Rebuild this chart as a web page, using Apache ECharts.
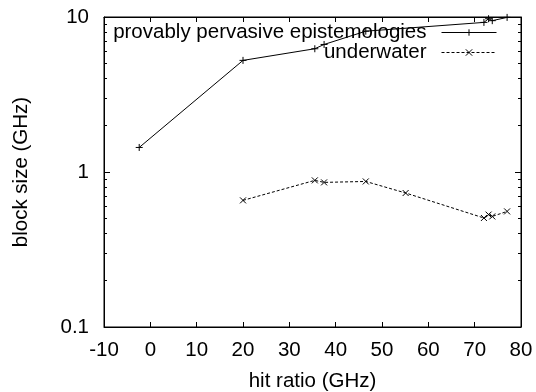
<!DOCTYPE html>
<html><head><meta charset="utf-8">
<script src="https://cdn.jsdelivr.net/npm/echarts@6/dist/echarts.min.js"></script>
<style>html,body{margin:0;padding:0;background:#fff}#c{width:536px;height:392px}</style>
</head><body><div id="c"></div>
<script>
var seriesNames = ['provably pervasive epistemologies', 'underwater'];
var pervasiveX = [-2.4, 20, 35.5, 37.5, 46.5, 72, 73, 73.8, 77];
var pervasiveY = [1.44, 5.25, 6.24, 6.65, 8.1, 9.23, 9.75, 9.47, 9.94];
var underwaterX = [20, 35.5, 37.5, 46.5, 55.1, 72, 73, 73.8, 77];
var underwaterY = [0.656, 0.883, 0.857, 0.869, 0.732, 0.505, 0.531, 0.517, 0.557];
var xTicks = [-10, 0, 10, 20, 30, 40, 50, 60, 70, 80];
var yMajorTicks = [0.1, 1, 10];
var yMinorTicks = [0.2,0.3,0.4,0.5,0.6,0.7,0.8,0.9,2,3,4,5,6,7,8,9];

function pairs(xs, ys){ return xs.map(function(x,i){ return [x, ys[i]]; }); }

var FONT = 'Liberation Sans';
var FS = 20.5;
var chart = echarts.init(document.getElementById('c'), null, {renderer:'canvas'});
var lineCol = '#000';
function xAx(pos, labels){
  return {type:'value', position:pos, min:-10, max:80, interval:10,
    axisLine:{show:true, onZero:false, lineStyle:{color:lineCol, width:1}},
    axisTick:{show:true, inside:true, length:5, lineStyle:{color:lineCol, width:1}},
    axisLabel:{show:labels, color:'#000', fontFamily:FONT, fontSize:FS, margin:13},
    splitLine:{show:false},
    name: labels ? 'hit ratio (GHz)' : '', nameLocation:'middle', nameGap:44,
    nameTextStyle:{color:'#000', fontFamily:FONT, fontSize:FS}};
}
function yAx(pos, labels){
  return {type:'log', logBase:10, position:pos, min:0.1, max:10,
    axisLine:{show:true, onZero:false, lineStyle:{color:lineCol, width:1}},
    axisTick:{show:true, inside:true, length:6, lineStyle:{color:lineCol, width:1}},
    axisLabel:{show:labels, color:'#000', fontFamily:FONT, fontSize:FS, margin:15,
      formatter:function(v){ return String(v); }},
    splitLine:{show:false}, minorTick:{show:false},
    name: labels ? 'block size (GHz)' : '', nameLocation:'middle', nameGap:72,
    nameTextStyle:{color:'#000', fontFamily:FONT, fontSize:FS}};
}
// minor ticks: a linear axis in decades (log10 units) carrying the minor tick values
function yMinorAx(pos){
  return {type:'value', position:pos, min:-1, max:1,
    axisLine:{show:false, onZero:false},
    axisTick:{show:true, inside:true, length:3, lineStyle:{color:lineCol, width:1},
      customValues: yMinorTicks.map(function(v){ return Math.log10(v); })},
    axisLabel:{show:false}, splitLine:{show:false}};
}
var plusSym = 'path://M5,0L5,10M0,5L10,5';
var crossSym = 'path://M0,0L10,10M10,0L0,10';
function legendItem(name, top){
  return {data:[name], orient:'vertical', right:39, top:top, align:'right', itemWidth:55, itemHeight:8,
     formatter:function(n){ return '{t|' + n + '}'; },
     textStyle:{color:'#000', fontFamily:FONT, fontSize:FS,
       rich:{t:{color:'#000', fontFamily:FONT, fontSize:FS, padding:[0,10,0,0]}}},
     itemStyle:{borderWidth:1},
     lineStyle:{width:1}, selectedMode:false, padding:0};
}
chart.setOption({
  animation:false,
  backgroundColor:'#fff',
  textStyle:{fontFamily:FONT},
  grid:{left:104, right:15, top:17, bottom:65, show:true, borderColor:'#000', borderWidth:1,
        backgroundColor:'transparent', containLabel:false, outerBoundsMode:'none'},
  xAxis:[xAx('bottom', true), xAx('top', false)],
  yAxis:[yAx('left', true), yAx('right', false), yMinorAx('left'), yMinorAx('right')],
  legend:[legendItem(seriesNames[0], 22), legendItem(seriesNames[1], 42)],
  series:[
    {name:seriesNames[0], type:'line', xAxisIndex:0, yAxisIndex:0, data:pairs(pervasiveX, pervasiveY),
     symbol:plusSym, symbolSize:7, showSymbol:true,
     lineStyle:{color:'#000', width:1}, itemStyle:{color:'#000', borderColor:'#000', borderWidth:1}},
    {name:seriesNames[1], type:'line', xAxisIndex:0, yAxisIndex:0, data:pairs(underwaterX, underwaterY),
     symbol:crossSym, symbolSize:6, showSymbol:true,
     lineStyle:{color:'#000', width:1, type:[3,2]}, itemStyle:{color:'#000', borderColor:'#000', borderWidth:1}}
  ]
});
</script></body></html>
